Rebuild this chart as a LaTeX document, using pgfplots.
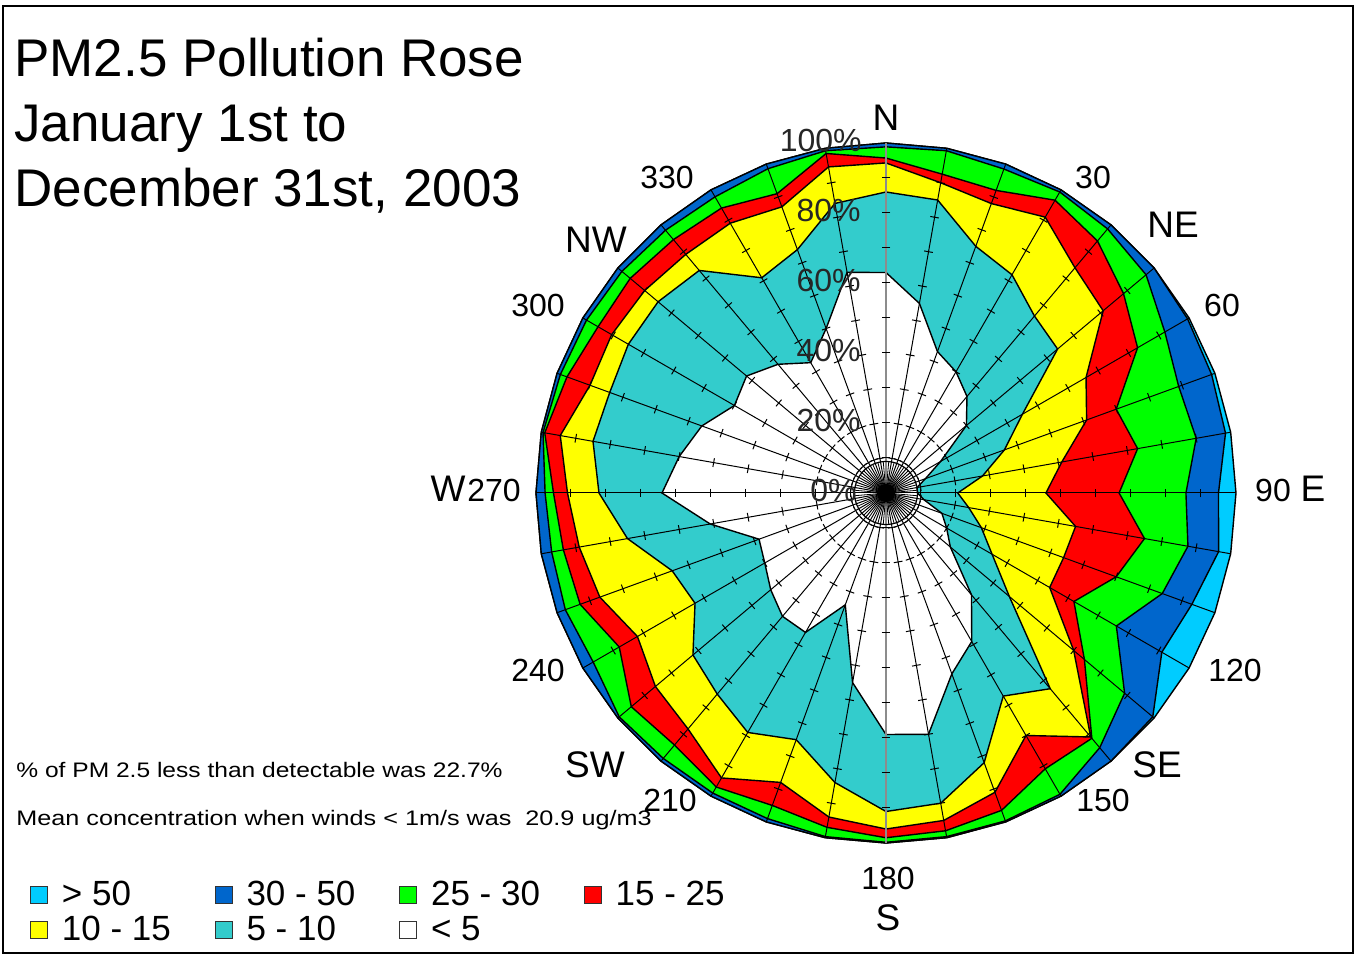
\documentclass[border=0pt]{standalone}
\usepackage{pgfplots}
\pgfplotsset{compat=1.18}
\usepgfplotslibrary{polar}
\usepackage{pgfplotstable}
\usepackage{fontspec}
\setmainfont{Liberation Sans}
\definecolor{lblue}{RGB}{0,204,255}
\definecolor{dblue}{RGB}{0,102,204}
\definecolor{pgreen}{RGB}{0,255,0}
\definecolor{pred}{RGB}{255,0,0}
\definecolor{pyellow}{RGB}{255,255,0}
\definecolor{pteal}{RGB}{51,204,204}

% cumulative percentages by compass direction (deg)
% W: <5, T: +5-10, Y: +10-15, R: +15-25, G: +25-30, B: +30-50, L: +>50
\pgfplotstableread{
dir W T Y R G B L
0 63 86 94.3 95.7 98.9 100 100
10 55 85 90 92.5 99.3 100 100
20 43 75 88 92 98.5 100 100
30 40 72 91 96.6 99.3 100 100
40 36 66 84 94 98.5 100 100
50 30 64 81 88.6 97 100 100
60 18 45 66 83 92 99.5 100
70 12 36 61 70 89 99 100
80 9 28 51 73 90 98.5 100
90 9 20.5 45.7 66.6 85.7 95 100
100 11 24 55 75 87.6 96.5 100
110 17 29 54 70 84 93 100
120 20 35 54 62 76 91 100
130 24 46 70 74 89 99.5 100
140 38 73 91 91.5 95 100 100
150 49 67 80 91 99.4 100 100
160 55 82 91 96.5 99.7 100 100
170 70 90 95 98 99.7 100 100
180 69 91 96 98.5 99.8 100 100
190 55 84 94 97 99.7 100 100
200 34 75 88 95 99 100 100
210 46 79 94 97 99 100 100
220 46 75 88 94 99 100 100
230 43 72 86 95 99.5 100 100
240 40 63 82 88 96.6 100 100
250 38.6 65 87 93 97.5 100 100
260 51 75 89 93.6 97 100 100
270 64 82 91 95 97.4 100 100
280 60 85 94.5 99 99.5 100 100
290 56 84 90 97 99 100 100
300 50 85 90.5 95 98.8 100 100
310 52 85 90 95.4 98.5 100 100
320 48 83 89 94.5 98 100 100
330 43 71 89 94 97.7 100 100
340 50 74 87 91 98.6 100 100
350 64 84 94.6 98.5 99.3 100 100
360 63 86 94.3 95.7 98.9 100 100
}\rose

\begin{document}
\begin{tikzpicture}
\begin{polaraxis}[
  at={(443pt,232pt)}, anchor=center,
  width=350pt, height=350pt, scale only axis,
  xmin=0, xmax=360, ymin=0, ymax=100,
  xtick=\empty, ytick=\empty,
  axis line style={draw=none},
  clip=false,
  legend columns=4,
  legend cell align=left,
  legend style={at={(axis description cs:-0.7229,-0.0543)}, anchor=north west,
    draw=none, fill=none, inner sep=0pt,
    font=\fontsize{17.5pt}{21pt}\selectfont, row sep=3.5pt,
    nodes={inner sep=0pt},
    /tikz/every odd column/.append style={column sep=7pt},
    /tikz/every even column/.append style={column sep=22pt}},
  legend image code/.code={\draw[#1,draw=black!80,line width=0.4pt] (0pt,-4.2pt) rectangle (8.4pt,4.2pt);},
]
\addplot[fill=lblue, draw=black, line width=0.7pt] table[x expr={mod(450-\thisrow{dir},360)}, y=L]{\rose};
\addlegendentry{> 50}
\addplot[fill=dblue, draw=black, line width=0.7pt] table[x expr={mod(450-\thisrow{dir},360)}, y=B]{\rose};
\addlegendentry{30 - 50}
\addplot[fill=pgreen, draw=black, line width=0.7pt] table[x expr={mod(450-\thisrow{dir},360)}, y=G]{\rose};
\addlegendentry{25 - 30}
\addplot[fill=pred, draw=black, line width=0.7pt] table[x expr={mod(450-\thisrow{dir},360)}, y=R]{\rose};
\addlegendentry{15 - 25}
\addplot[fill=pyellow, draw=black, line width=0.7pt] table[x expr={mod(450-\thisrow{dir},360)}, y=Y]{\rose};
\addlegendentry{10 - 15}
\addplot[fill=pteal, draw=black, line width=0.7pt] table[x expr={mod(450-\thisrow{dir},360)}, y=T]{\rose};
\addlegendentry{5 - 10}
\addplot[fill=white, draw=black, line width=0.7pt] table[x expr={mod(450-\thisrow{dir},360)}, y=W]{\rose};
\addlegendentry{< 5}
% spokes
\foreach \a in {0,10,...,80,100,110,...,260,280,290,...,350}{
  \edef\temp{\noexpand\draw[black, line width=0.5pt] (axis cs:\a,0) -- (axis cs:\a,100);}
  \temp
}
\draw[black!45, line width=1.4pt] (axis cs:90,0) -- (axis cs:90,100);
\draw[black!45, line width=1.4pt] (axis cs:270,0) -- (axis cs:270,100);
% inner hub lines
\foreach \a in {5,15,...,355}{
  \edef\temp{\noexpand\draw[black, line width=0.4pt] (axis cs:\a,0) -- (axis cs:\a,9);}
  \temp
}
% cross ticks every 10 %
\foreach \a in {0,10,...,350}{
  \foreach \r in {10,20,...,90}{
    \edef\temp{\noexpand\draw[black, line width=0.5pt, shift={(axis cs:\a,\r)}, rotate=\a] (0,-2.2pt) -- (0,2.2pt);}
    \temp
  }
}
\draw[black, line width=0.6pt] (axis cs:0,0) circle[radius=15.75pt];
\fill[black] (axis cs:0,0) circle[radius=4.5pt];
\end{polaraxis}

\begin{scope}[x=0.5pt, y=-0.5pt, shift={(0pt,478.5pt)}]
  \draw[black, line width=0.8pt] (3,6) rectangle (1353,953);
  % title
  \begin{scope}[every node/.style={anchor=base west, inner sep=0pt, font=\fontsize{26.5pt}{30pt}\selectfont}]
    \node at (14,77) {PM2.5 Pollution Rose};
    \node at (14,142) {January 1st to};
    \node at (14,207) {December 31st, 2003};
  \end{scope}
  % notes
  \node[anchor=base west, inner sep=0pt, font=\fontsize{10.5pt}{12pt}\selectfont] at (16,778)
    {\scalebox{1.17}[1]{\% of PM 2.5 less than detectable was 22.7\%}};
  \node[anchor=base west, inner sep=0pt, font=\fontsize{10.5pt}{12pt}\selectfont] at (16,826)
    {\scalebox{1.2}[1]{Mean concentration when winds < 1m/s was\ \ 20.9 ug/m3}};
  % radial labels
  \begin{scope}[every node/.style={anchor=east, inner sep=0pt, font=\fontsize{16pt}{18pt}\selectfont, text=black!85}]
    \node at (857,490.5) {0\%};
    \node at (861,420.5) {20\%};
    \node at (861,350.5) {40\%};
    \node at (861,280.5) {60\%};
    \node at (861,210.5) {80\%};
    \node at (862,140.5) {100\%};
  \end{scope}
  % degree labels
  \begin{scope}[every node/.style={inner sep=0pt, font=\fontsize{16pt}{18pt}\selectfont}]
    \node at (1093,178) {30};
    \node at (1222,305) {60};
    \node at (1273,490) {90};
    \node at (1235,670) {120};
    \node at (1103,800) {150};
    \node at (888,878) {180};
    \node at (670,800) {210};
    \node at (538,670) {240};
    \node at (494,490) {270};
    \node at (538,305) {300};
    \node at (667,178) {330};
  \end{scope}
  % compass labels
  \begin{scope}[every node/.style={inner sep=0pt, font=\fontsize{18.5pt}{20pt}\selectfont}]
    \node at (886,118) {N};
    \node at (1173,225) {NE};
    \node at (1313,489) {E};
    \node at (1157,765) {SE};
    \node at (888,918) {S};
    \node at (595,765) {SW};
    \node at (448,489) {W};
    \node at (596,240) {NW};
  \end{scope}
\end{scope}
\pgfresetboundingbox
\path[use as bounding box] (0pt,0pt) rectangle (678pt,478.5pt);
\end{tikzpicture}
\end{document}
